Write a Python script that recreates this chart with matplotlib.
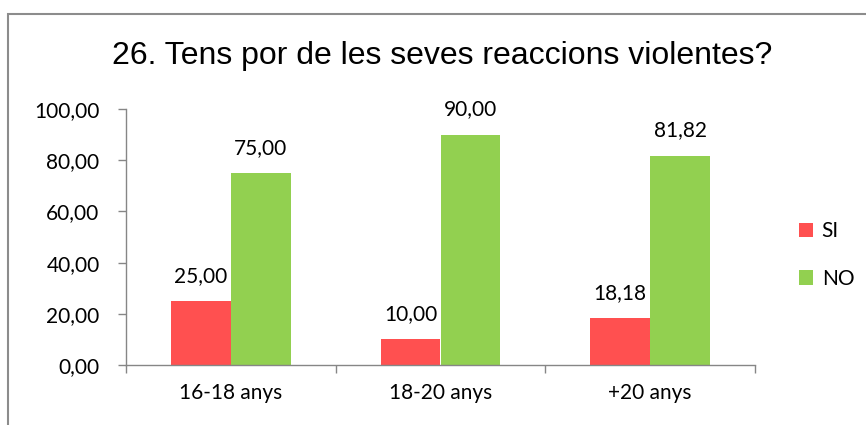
import matplotlib
matplotlib.use("Agg")
import matplotlib.pyplot as plt
from matplotlib.patches import Rectangle
import numpy as np

categories = ["16-18 anys", "18-20 anys", "+20 anys"]
si_values = [25.00, 10.00, 18.18]
no_values = [75.00, 90.00, 81.82]
series_names = ["SI", "NO"]
title = "26. Tens por de les seves reaccions violentes?"

red = "#FF5050"
green = "#92D050"
axis_gray = "#868686"

fig = plt.figure(figsize=(8.66, 4.25), dpi=100)
ax = fig.add_axes([126 / 866, 1 - 365 / 425, (755 - 126) / 866, (365 - 109) / 425])

# outer chart border (cut off at right/bottom like the source)
fig.patches.append(Rectangle((8 / 866, -0.2), 1.2, 1.2 - 14 / 425,
                             transform=fig.transFigure, fill=False,
                             edgecolor="#8c8c8c", linewidth=1.5, zorder=0))

x = np.arange(len(categories))
w = 60 / 209.7
b1 = ax.bar(x - w / 2, si_values, w, color=red, label=series_names[0], zorder=2)
b2 = ax.bar(x + w / 2, no_values, w, color=green, label=series_names[1], zorder=2)

fmt = lambda v: f"{v:.2f}".replace(".", ",")
lblfont = dict(family="Lato", size=15, color="black")
for bars, vals in ((b1, si_values), (b2, no_values)):
    for r, v in zip(bars, vals):
        ax.annotate(fmt(v), (r.get_x() + r.get_width() / 2, v), xytext=(0, 11),
                    textcoords="offset points", ha="center", va="bottom", **lblfont)

ax.set_xlim(-0.5, len(categories) - 0.5)
ax.set_ylim(0, 100)
ax.set_yticks(np.arange(0, 101, 20))
ax.set_yticklabels([fmt(v) for v in np.arange(0, 101, 20)], **lblfont)

ax.set_xticks(np.arange(-0.5, len(categories), 1.0))
ax.set_xticklabels([])
ax.set_xticks(x, minor=True)
ax.set_xticklabels(categories, minor=True, **lblfont)
ax.tick_params(axis="x", which="major", direction="out", length=6, color=axis_gray, width=1)
ax.tick_params(axis="x", which="minor", length=0, pad=13)
ax.tick_params(axis="y", direction="out", length=6, color=axis_gray, width=1, pad=13)

for s in ("top", "right"):
    ax.spines[s].set_visible(False)
for s in ("left", "bottom"):
    ax.spines[s].set_color(axis_gray)
    ax.spines[s].set_linewidth(1)

fig.text(442 / 866, 1 - 56 / 425, title, ha="center", va="center",
         family="Liberation Sans", size=23)

leg = fig.legend(handles=[b1, b2], labels=series_names, loc="center left",
                 bbox_to_anchor=(780 / 866, 1 - 255 / 425), frameon=False,
                 prop=dict(family="Lato", size=15), handlelength=0.7,
                 handleheight=0.7, handletextpad=0.4, labelspacing=1.3)

fig.savefig("out.png", dpi=100)
